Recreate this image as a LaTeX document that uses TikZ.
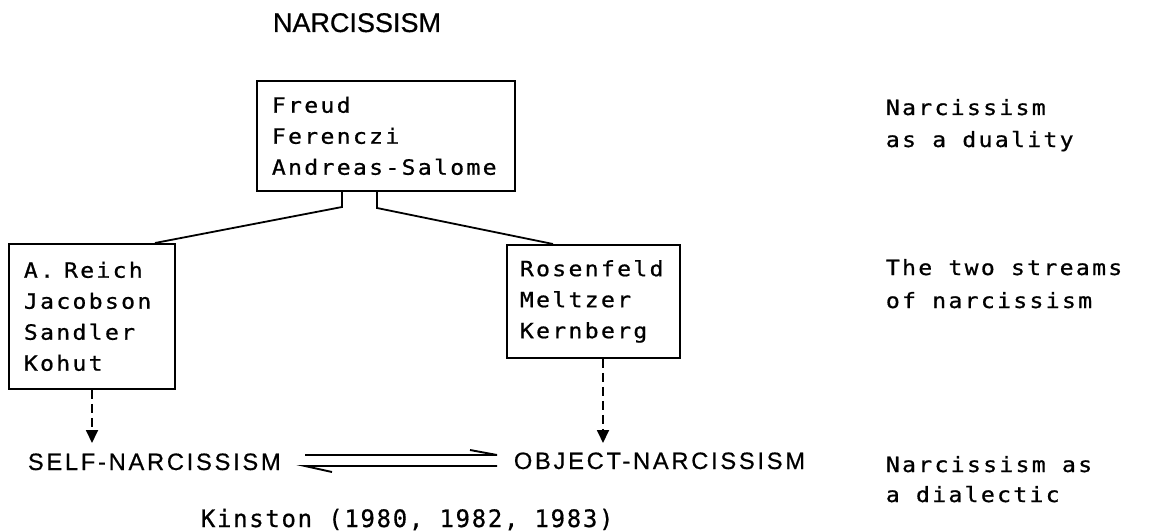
\documentclass[tikz,border=0pt]{standalone}
\usepackage{fontspec}
\newfontfamily\monofam[FakeStretch=1.1,LetterSpace=11,FakeBold=0.8]{DejaVu Sans Mono}
\newfontfamily\kinfam[LetterSpace=7,FakeBold=0.6]{DejaVu Sans Mono}
\newfontfamily\helvfam[FakeBold=0.6]{Liberation Sans}
\newfontfamily\helvsp[LetterSpace=11.5,FakeBold=0.6]{Liberation Sans}
\usetikzlibrary{arrows.meta}
\begin{document}
\begin{tikzpicture}[x=1pt,y=-1pt,line width=1.8pt,
  boxtxt/.style={font=\monofam\fontsize{21}{31}\selectfont},
  namebox/.style={draw,boxtxt,align=left,anchor=north west,inner xsep=15pt,inner ysep=0pt},
  lbl/.style={boxtxt,anchor=base west,inner sep=0pt},
  bigcap/.style={font=\helvsp\fontsize{23.7}{28}\selectfont,anchor=base west,inner sep=0pt},
  dasharrow/.style={dash pattern=on 9pt off 5pt,-{Triangle[length=13pt,width=12pt]}},
  harp/.style={line width=1.9pt}]
\useasboundingbox (0,0) rectangle (1159,532);
% title
\node (title) [font=\helvfam\fontsize{27}{30}\selectfont,anchor=base,inner sep=0pt] at (357,32) {NARCISSISM};
% boxes
\node (topbox) [namebox,text width=228pt,minimum height=110pt] at (256,80)
  {\mbox{Freud}\\\mbox{Ferenczi}\\\mbox{Andreas-Salome}};
\node (leftbox) [namebox,text width=136pt,minimum height=145pt] at (8,243)
  {\mbox{A.\kern3pt{} Reich}\\\mbox{Jacobson}\\\mbox{Sandler}\\\mbox{Kohut}};
\node (rightbox) [namebox,inner xsep=13pt,text width=147pt,minimum height=113pt] at (506,244)
  {\mbox{Rosenfeld}\\\mbox{Meltzer}\\\mbox{Kernberg}};
% bottom row
\node (self) [bigcap] at (27,470) {SELF-NARCISSISM};
\node (object) [bigcap] at (513,469) {OBJECT-NARCISSISM};
\node (kin) [font=\kinfam\fontsize{24}{28}\selectfont,anchor=base west,inner sep=0pt] at (200,527) {Kinston (1980, 1982, 1983)};
% right labels
\node (l1a) [lbl] at (885,115) {Narcissism};
\node (l1b) [lbl] at (885,147) {as a duality};
\node (l2a) [lbl] at (885,275) {The two streams};
\node (l2b) [lbl] at (885,308) {of narcissism};
\node (l3a) [lbl] at (885,472) {Narcissism as};
\node (l3b) [lbl] at (885,502) {a dialectic};
% tree connectors
\coordinate (s1) at (342,207);
\coordinate (s2) at (377,208);
\coordinate (e1) at (155,0);
\coordinate (e2) at (553,0);
\draw (topbox.south -| s1) -- (s1) -- (leftbox.north -| e1);
\draw (topbox.south -| s2) -- (s2) -- (rightbox.north -| e2);
% dashed arrows
\coordinate (t1) at (92,443);
\coordinate (t2) at (603,443);
\draw[dasharrow] (leftbox.south -| t1) -- (t1);
\draw[dasharrow] (rightbox.south -| t2) -- (t2);
% harpoons
\coordinate (h1) at (305,455);
\coordinate (h2) at (497,455);
\coordinate (h3) at (305,466);
\coordinate (h4) at (497,466);
\draw[harp] (h1) -- (h2) -- ++(-27,-5);
\draw[harp] (h4) -- (h3) -- ++(27,6);
\end{tikzpicture}
\end{document}
